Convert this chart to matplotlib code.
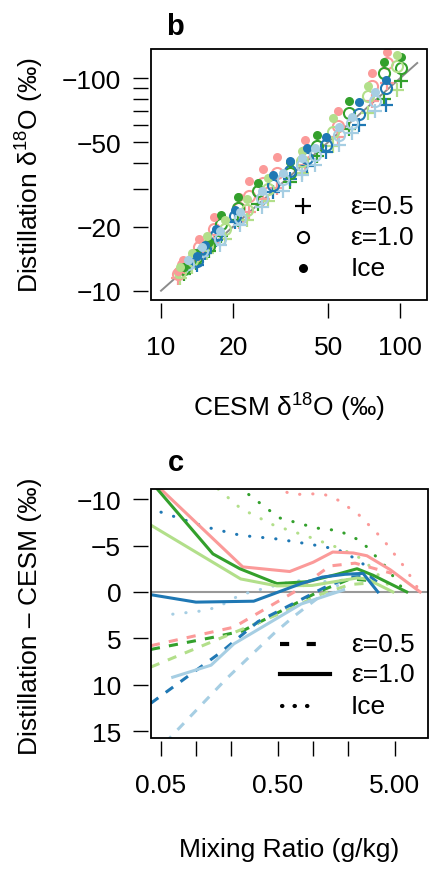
import matplotlib
matplotlib.use('Agg')
import matplotlib.pyplot as plt
import matplotlib.ticker as mtick
from matplotlib.patches import Rectangle

plt.rcParams['font.family'] = ['Liberation Sans', 'DejaVu Sans']
plt.rcParams['mathtext.default'] = 'regular'

FS = 19
COLORS = ['#fb9a99', '#33a02c', '#b2df8a', '#1f78b4', '#a6cee3']

# ---- panel b: CESM vs distillation d18O (magnitudes, permil) ----
cesm_pink = [11.8, 12.4, 14.4, 16.7, 21.2, 23.3, 26.7, 30.5, 40.1, 55.1, 76.4, 88.3]
ice_pink = [12.4, 13.9, 17.6, 22.3, 27.7, 33.0, 37.6, 42.4, 51.0, 69.8, 105.7, 132.8]
e10_pink = [12.0, 13.2, 16.0, 19.5, 24.5, 28.0, 32.0, 36.0, 45.0, 59.4, 91.6, 117.8]
e05_pink = [11.5, 12.3, 14.3, 16.8, 21.0, 23.5, 27.0, 30.5, 39.0, 53.0, 78.0, 95.0]

cesm_dgreen = [12.5, 14.0, 15.9, 17.8, 21.0, 25.5, 34.7, 45.0, 61.2, 85.8, 101.0]
ice_dgreen = [13.0, 15.0, 16.9, 22.6, 27.5, 32.3, 40.5, 53.8, 77.9, 118.9, 126.0]
e10_dgreen = [12.6, 14.3, 16.2, 20.5, 24.5, 29.5, 36.0, 48.0, 68.4, 105.7, 112.0]
e05_dgreen = [12.0, 13.5, 15.3, 18.0, 21.5, 25.5, 32.5, 43.0, 58.0, 80.0, 96.8]

cesm_lgreen = [12.0, 13.5, 15.5, 18.5, 23.0, 28.0, 38.9, 52.5, 73.5, 97.0]
ice_lgreen = [13.0, 15.0, 18.0, 21.5, 27.0, 34.0, 45.7, 64.7, 92.0, 128.0]
e10_lgreen = [12.2, 14.0, 16.5, 19.5, 24.0, 30.0, 41.0, 56.0, 82.2, 114.0]
e05_lgreen = [11.5, 13.0, 15.0, 17.5, 21.5, 26.5, 36.0, 48.0, 68.4, 87.7]

cesm_dblue = [14.2, 15.3, 17.0, 20.4, 29.4, 34.7, 40.8, 49.0, 67.3, 87.3]
ice_dblue = [14.5, 16.5, 19.5, 24.0, 35.0, 41.0, 47.0, 53.0, 77.0, 98.0]
e10_dblue = [13.8, 15.8, 18.2, 22.5, 31.5, 36.5, 42.0, 48.5, 68.0, 90.0]
e05_dblue = [13.2, 15.0, 17.3, 21.0, 29.0, 33.5, 38.5, 45.0, 60.0, 75.0]

cesm_lblue = [13.0, 14.9, 17.7, 21.4, 26.5, 32.4, 38.9, 44.1, 55.6, 63.0, 78.5]
ice_lblue = [14.0, 16.0, 19.0, 23.5, 29.5, 36.0, 42.0, 47.0, 59.0, 66.0, 86.0]
e10_lblue = [13.4, 15.4, 17.6, 21.9, 27.2, 33.7, 38.9, 43.5, 54.0, 61.4, 77.9]
e05_lblue = [12.8, 14.6, 16.5, 20.3, 24.9, 29.6, 35.0, 38.9, 48.3, 55.1, 69.8]

scatter_sets = [
    (cesm_pink, ice_pink, e10_pink, e05_pink),
    (cesm_dgreen, ice_dgreen, e10_dgreen, e05_dgreen),
    (cesm_lgreen, ice_lgreen, e10_lgreen, e05_lgreen),
    (cesm_dblue, ice_dblue, e10_dblue, e05_dblue),
    (cesm_lblue, ice_lblue, e10_lblue, e05_lblue),
]

# ---- panel c: distillation - CESM vs mixing ratio (g/kg) ----
# eps = 1.0 (solid)
q_s_pink = [0.041, 0.25, 0.63, 1.0, 1.47, 2.2, 2.88, 4.55, 8.2]
d_s_pink = [-12.1, -2.7, -2.2, -3.2, -4.3, -4.2, -3.9, -2.4, 0.0]
q_s_dgreen = [0.041, 0.139, 0.236, 0.49, 0.89, 1.6, 2.37, 3.25, 6.3]
d_s_dgreen = [-11.9, -4.1, -2.5, -0.9, -1.1, -1.9, -2.5, -1.8, 0.0]
q_s_lgreen = [0.041, 0.24, 0.49, 0.98, 2.37, 2.88, 4.8]
d_s_lgreen = [-7.2, -1.4, -0.65, -0.7, -1.5, -1.4, 0.0]
q_s_dblue = [0.041, 0.0995, 0.31, 0.79, 1.2, 1.87, 2.67, 3.57]
d_s_dblue = [0.3, 1.1, 1.0, -0.9, -1.6, -1.9, -2.0, 0.0]
q_s_lblue = [0.063, 0.134, 0.21, 0.79, 1.81]
d_s_lblue = [9.2, 7.9, 5.6, 1.3, -0.2]

# eps = 0.5 (dashed)
q_d_pink = [0.041, 0.21, 0.69, 1.39, 2.28, 4.71]
d_d_pink = [5.8, 3.8, 0.0, -2.8, -3.1, -2.0]
q_d_dgreen = [0.041, 0.139, 0.25, 1.1, 2.07, 3.2]
d_d_dgreen = [6.2, 4.9, 4.2, 0.0, -1.4, -1.2]
q_d_lgreen = [0.041, 0.154, 0.55, 1.14, 2.07, 3.37]
d_d_lgreen = [8.1, 5.1, 2.2, 0.3, -0.8, -1.0]
q_d_dblue = [0.041, 0.163, 0.338, 0.74, 1.26, 2.07, 3.05, 3.57]
d_d_dblue = [12.0, 6.5, 3.2, 1.0, -0.5, -1.6, -1.7, -1.0]
q_d_lblue = [0.054, 0.18, 0.46, 0.69, 1.14, 1.87]
d_d_lblue = [16.3, 9.4, 4.5, 2.6, 0.5, -0.3]

# ice (dotted)
q_i_pink = [0.47, 0.66, 1.2, 1.63, 2.42, 3.93, 6.1, 8.2]
d_i_pink = [-11.3, -10.5, -10.6, -9.9, -8.4, -5.7, -2.6, 0.0]
q_i_dgreen = [0.23, 0.25, 0.51, 1.05, 1.66, 2.56, 4.19, 6.1]
d_i_dgreen = [-11.4, -11.0, -8.0, -6.9, -6.6, -5.5, -2.7, 0.0]
q_i_lgreen = [0.154, 0.24, 0.46, 0.89, 1.77, 2.67, 5.0]
d_i_lgreen = [-11.1, -9.0, -7.2, -6.0, -4.6, -3.5, 0.0]
q_i_dblue = [0.05, 0.121, 0.24, 0.5, 0.98, 1.6, 2.37, 2.88]
d_i_dblue = [-8.6, -7.0, -6.1, -5.7, -5.1, -4.6, -3.5, -2.7]
q_i_lblue = [0.063, 0.121, 0.16, 0.24, 0.55, 0.74, 1.2, 1.8]
d_i_lblue = [2.4, 2.0, 1.5, 0.3, -0.9, -1.2, -1.2, -0.5]

solid_sets = [(q_s_pink, d_s_pink), (q_s_dgreen, d_s_dgreen), (q_s_lgreen, d_s_lgreen),
              (q_s_dblue, d_s_dblue), (q_s_lblue, d_s_lblue)]
dashed_sets = [(q_d_pink, d_d_pink), (q_d_dgreen, d_d_dgreen), (q_d_lgreen, d_d_lgreen),
               (q_d_dblue, d_d_dblue), (q_d_lblue, d_d_lblue)]
dotted_sets = [(q_i_pink, d_i_pink), (q_i_dgreen, d_i_dgreen), (q_i_lgreen, d_i_lgreen),
               (q_i_dblue, d_i_dblue), (q_i_lblue, d_i_lblue)]

DASH = (0, (3, 3))
DOT = (0, (0.1, 4.2))


def frame(ax):
    # R-like box with ticks set slightly off the frame
    for side in ax.spines:
        ax.spines[side].set_color('none')
    ax.spines['left'].set_position(('outward', 2))
    ax.spines['bottom'].set_position(('outward', 2))
    ax.add_patch(Rectangle((0, 0), 1, 1, transform=ax.transAxes, fill=False,
                           lw=1.3, ec='black', clip_on=False, zorder=10))
    ax.tick_params(direction='out', length=10.5, width=1.0, labelsize=FS, color='black')
    ax.tick_params(axis='x', pad=13)
    ax.tick_params(axis='y', pad=9)
    ax.xaxis.set_minor_locator(mtick.NullLocator())
    ax.yaxis.set_minor_locator(mtick.NullLocator())


fig = plt.figure(figsize=(4.3, 8.7), dpi=100)

# panel b
axb = fig.add_axes([0.3512, 0.654, 0.6419, 0.2885])
axb.set_xscale('log')
axb.set_yscale('log')
axb.plot([10, 118], [10, 118], color='#8c8c8c', lw=1.4, zorder=1)
for col, (cx, yi, y1, y05) in zip(COLORS, scatter_sets):
    axb.plot(cx, y05, ls='none', marker='+', ms=10.5, mew=1.6, color=col, zorder=2)
    axb.plot(cx, y1, ls='none', marker='o', ms=8, mew=1.5, mfc='none', mec=col, zorder=3)
    axb.plot(cx, yi, ls='none', marker='o', ms=6.5, mew=0, color=col, zorder=4)
axb.set_xlim(9.08, 129.7)
axb.set_ylim(9.04, 137.3)
frame(axb)
axb.xaxis.set_major_locator(mtick.FixedLocator([10, 20, 50, 100]))
axb.xaxis.set_major_formatter(mtick.FixedFormatter(['10', '20', '50', '100']))
ytk = [10, 20, 30, 40, 50, 60, 70, 80, 90, 100]
axb.yaxis.set_major_locator(mtick.FixedLocator(ytk))
axb.yaxis.set_major_formatter(mtick.FixedFormatter(
    ['\u2212%d' % v if v in (10, 20, 50, 100) else '' for v in ytk]))

leg_b = [('+', 12, 1.6, 'none', '\u03b5=0.5', 0.375),
         ('o', 8, 1.5, 'none', '\u03b5=1.0', 0.251),
         ('o', 6.5, 0, 'black', 'Ice', 0.127)]
for mk, ms, mew, mfc, lab, yy in leg_b:
    axb.plot([0.551], [yy], transform=axb.transAxes, ls='none', marker=mk, ms=ms,
             mew=mew, mfc=mfc, mec='black', color='black', clip_on=False)
    axb.text(0.722, yy, lab, transform=axb.transAxes, fontsize=FS, ha='left', va='center')

# panel c
axc = fig.add_axes([0.3512, 0.1506, 0.644, 0.2862])
axc.set_xscale('log')
axc.axhline(0, color='#999999', lw=1.5, zorder=1)
for col, (q, d) in zip(COLORS, dotted_sets):
    axc.plot(q, d, color=col, lw=2.2, ls=DOT, dash_capstyle='round', zorder=2)
for col, (q, d) in zip(COLORS, dashed_sets):
    axc.plot(q, d, color=col, lw=2.2, ls=DASH, zorder=3)
for col, (q, d) in zip(COLORS, solid_sets):
    axc.plot(q, d, color=col, lw=2.2, zorder=4)
axc.set_xlim(0.0411, 9.57)
axc.set_ylim(15.75, -11.1)
frame(axc)
xtk = [0.05, 0.1, 0.2, 0.5, 1, 2, 5]
axc.xaxis.set_major_locator(mtick.FixedLocator(xtk))
axc.xaxis.set_major_formatter(mtick.FixedFormatter(['0.05', '', '', '0.50', '', '', '5.00']))
yc = [-10, -5, 0, 5, 10, 15]
axc.yaxis.set_major_locator(mtick.FixedLocator(yc))
axc.yaxis.set_major_formatter(mtick.FixedFormatter(
    [('\u2212%d' % -v) if v < 0 else '%d' % v for v in yc]))

axc.plot([0.466, 0.646], [0.378, 0.378], transform=axc.transAxes, color='black', lw=3,
         ls=(0, (2.2, 4.2)), clip_on=False)
axc.plot([0.466, 0.646], [0.257, 0.257], transform=axc.transAxes, color='black', lw=3,
         clip_on=False)
axc.plot([0.473, 0.600], [0.129, 0.129], transform=axc.transAxes, color='black', lw=3,
         ls=(0, (0.1, 2.9)), dash_capstyle='round', clip_on=False)
for lab, yy in [('\u03b5=0.5', 0.378), ('\u03b5=1.0', 0.257), ('Ice', 0.129)]:
    axc.text(0.722, yy, lab, transform=axc.transAxes, fontsize=FS, ha='left', va='center')

# labels
fig.text(0.07, 1 - 175 / 870, 'Distillation \u03b4$^{18}$O (\u2030)', rotation=90,
         ha='center', va='center', fontsize=FS)
fig.text(0.672, 1 - 408 / 870, 'CESM \u03b4$^{18}$O (\u2030)', ha='center', va='center',
         fontsize=FS)
fig.text(0.07, 1 - 616 / 870, 'Distillation \u2013 CESM (\u2030)', rotation=90,
         ha='center', va='center', fontsize=FS)
fig.text(0.672, 1 - 850 / 870, 'Mixing Ratio (g/kg)', ha='center', va='center', fontsize=FS)
fig.text(175 / 430, 1 - 27 / 870, 'b', fontsize=21, fontweight='bold', ha='center', va='center')
fig.text(176 / 430, 1 - 463 / 870, 'c', fontsize=21, fontweight='bold', ha='center', va='center')

fig.savefig('out.png', dpi=100)
